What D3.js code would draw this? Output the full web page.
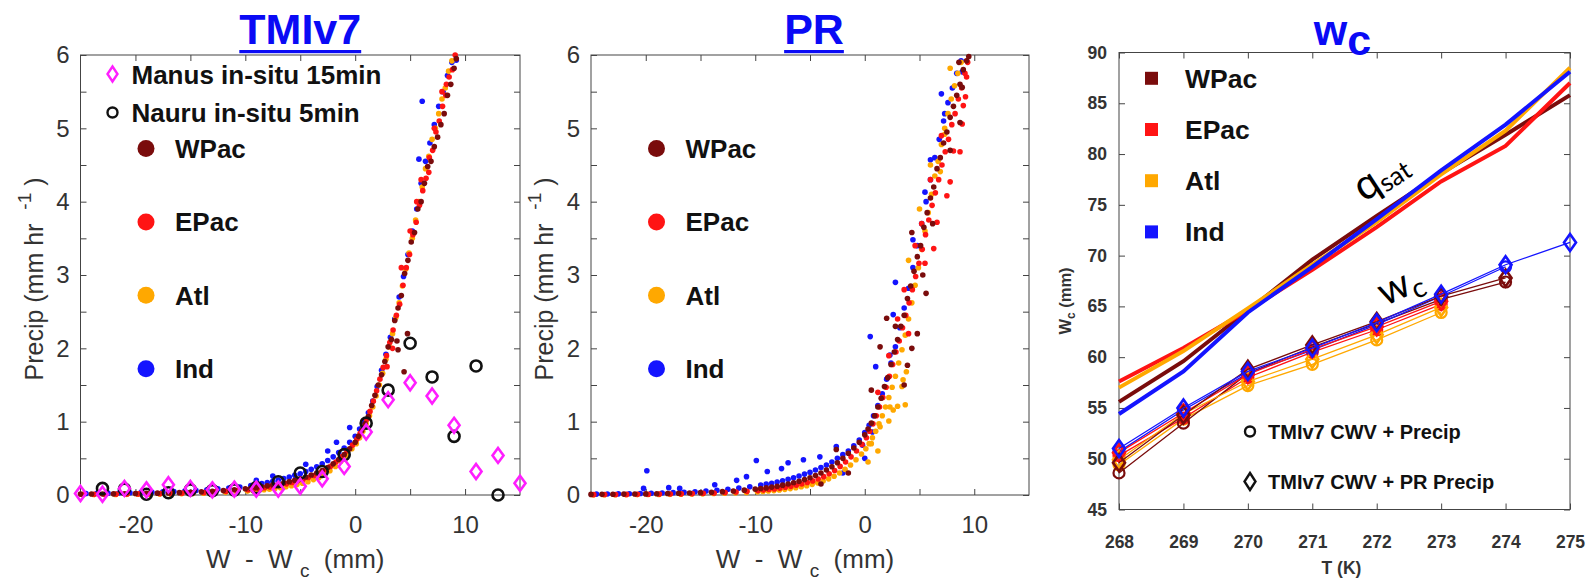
<!DOCTYPE html>
<html>
<head>
<meta charset="utf-8">
<script src="https://cdn.jsdelivr.net/npm/d3@7"></script>
<style>
  body { margin: 0; background: #fff; }
  svg { display: block; font-family: "Liberation Sans", Arial, sans-serif; }
</style>
</head>
<body>
<svg id="chart" width="1591" height="581"></svg>
<script>
// ---------------- data ----------------
const regions = ["WPac", "EPac", "Atl", "Ind"];
const regionColors = { WPac: "#7a0c0c", EPac: "#ff1414", Atl: "#ffa800", Ind: "#1414ff" };

// TMIv7 precip vs W - Wc  [W - Wc (mm), precip (mm/hr)]
const tmiWPac = [[-25,.012],[-24,.013],[-23,.014],[-22,.016],[-21,.018],[-20,.02],[-19,.022],[-18,.025],[-17,.028],[-16,.032],[-15,.037],[-14,.043],[-13,.05],[-12,.06],[-11,.072],[-10,.085],[-9.5,.092],[-9,.1],[-8.5,.112],[-8,.125],[-7.5,.138],[-7,.15],[-6.5,.167],[-6,.182],[-5.5,.2],[-5,.222],[-4.5,.245],[-4,.272],[-3.5,.3],[-3,.335],[-2.5,.375],[-2,.425],[-1.5,.485],[-1,.55],[-0.5,.63],[0,.72],[0.3,.8],[0.6,.88],[0.9,.97],[1.2,1.07],[1.5,1.22],[1.8,1.36],[2.1,1.5],[2.4,1.64],[2.7,1.82],[3.0,2.02],[3.3,2.12],[3.6,2.38],[3.8,2.1],[3.9,2.55],[4.2,2.72],[4.5,3.02],[4.8,3.2],[5.1,3.45],[5.4,3.58],[5.7,3.9],[6.0,4.0],[6.3,4.25],[6.6,4.48],[6.9,4.55],[7.2,4.75],[7.5,4.88],[7.8,5.05],[8.1,5.2],[8.4,5.45],[8.7,5.6],[9.0,5.82],[9.2,5.95],[4.76,2.2],[4.45,1.68],[3.9,1.98]];
const tmiEPac = [[-24.75,.008],[-23.75,.009],[-22.75,.01],[-21.75,.012],[-20.75,.013],[-19.75,.015],[-18.75,.017],[-17.75,.019],[-16.75,.022],[-15.75,.026],[-14.75,.03],[-13.75,.035],[-12.75,.042],[-11.75,.05],[-10.75,.06],[-9.75,.072],[-9.25,.08],[-8.75,.088],[-8.25,.098],[-7.75,.11],[-7.25,.122],[-6.75,.136],[-6.25,.152],[-5.75,.17],[-5.25,.19],[-4.75,.212],[-4.25,.238],[-3.75,.266],[-3.25,.3],[-2.75,.34],[-2.25,.39],[-1.75,.45],[-1.25,.52],[-0.75,.6],[-0.25,.68],[0.15,.76],[0.45,.84],[0.75,.93],[1.05,1.03],[1.35,1.14],[1.65,1.28],[1.95,1.42],[2.25,1.58],[2.55,1.74],[2.85,1.9],[3.15,2.08],[3.45,2.25],[3.75,2.45],[4.05,2.6],[4.35,2.86],[4.65,3.1],[4.95,3.28],[5.25,3.55],[5.55,3.72],[5.85,3.95],[6.15,4.15],[6.45,4.32],[6.75,4.6],[7.05,4.7],[7.35,4.95],[7.65,5.1],[7.95,5.3],[8.25,5.45],[8.55,5.7],[8.85,5.8],[9.1,6.0],[4.2,3.1],[5.0,3.6],[6.0,4.3],[7.2,5.0],[8.3,5.6],[3.4,2.0],[5.6,4.0],[6.7,4.4],[7.9,5.5],[2.9,1.75]];
const tmiAtl = [[-24.8,.005],[-23.8,.006],[-22.8,.007],[-21.8,.008],[-20.8,.009],[-19.8,.01],[-18.8,.011],[-17.8,.013],[-16.8,.015],[-15.8,.018],[-14.8,.021],[-13.8,.025],[-12.8,.03],[-11.8,.036],[-10.8,.044],[-9.8,.053],[-9.3,.058],[-8.8,.064],[-8.3,.072],[-7.8,.08],[-7.3,.09],[-6.8,.1],[-6.3,.112],[-5.8,.126],[-5.3,.142],[-4.8,.16],[-4.3,.182],[-3.8,.21],[-3.3,.24],[-2.8,.28],[-2.3,.33],[-1.8,.39],[-1.3,.46],[-0.8,.54],[-0.3,.63],[0.1,.7],[0.4,.78],[0.7,.87],[1.0,.97],[1.3,1.08],[1.6,1.2],[1.9,1.35],[2.2,1.5],[2.5,1.66],[2.8,1.85],[3.1,2.02],[3.4,2.2],[3.7,2.42],[4.0,2.62],[4.3,2.85],[4.6,3.08],[4.9,3.3],[5.2,3.5],[5.5,3.75],[5.8,4.0],[6.1,4.2],[6.4,4.45],[6.7,4.62],[7.0,4.85],[7.3,5.0],[7.6,5.2],[7.9,5.4],[8.2,5.55],[8.5,5.78],[8.8,5.92]];
const tmiInd = [[-24.5,.02],[-23.5,.022],[-22.5,.025],[-21.5,.027],[-20.5,.03],[-19.5,.033],[-18.5,.037],[-17.5,.042],[-16.5,.048],[-15.5,.055],[-14.5,.063],[-13.5,.072],[-12.5,.083],[-11.5,.096],[-10.5,.11],[-9.5,.128],[-9,.14],[-8.5,.155],[-8,.17],[-7.5,.188],[-7,.205],[-6.5,.225],[-6,.245],[-5.5,.268],[-5,.29],[-4.5,.32],[-4,.35],[-3.5,.385],[-3,.425],[-2.5,.47],[-2,.52],[-1.5,.58],[-1,.64],[-0.5,.72],[0,.8],[0.4,.9],[0.8,1.0],[1.2,1.12],[1.6,1.28],[2.0,1.48],[2.4,1.7],[2.8,1.92],[3.2,2.15],[3.6,2.4],[4.0,2.7],[4.4,2.98],[4.8,3.28],[5.2,3.6],[5.6,3.9],[6.0,4.25],[6.4,4.55],[6.8,4.8],[7.2,5.05],[7.6,5.3],[8.0,5.5],[8.4,5.72],[8.8,5.9],[9.2,5.93],[6.1,5.37],[5.8,4.58],[-0.5,.92],[-1.7,.72],[-2.5,.6],[-4.5,.42],[-7.5,.26],[-9,.2]];

// in-situ points (panel 1)
const manusW = [-25,-23,-21,-19,-17,-15,-13,-11,-9,-7,-5,-3,-1,1,3,5,7,9,11,13,15];
const manusP = [0.02,0.01,0.09,0.07,0.14,0.09,0.07,0.08,0.08,0.08,0.12,0.22,0.39,0.86,1.30,1.53,1.35,0.95,0.32,0.54,0.16];
const nauruW = [-23,-21,-19,-17,-15,-13,-11,-9,-7,-5,-3,-1,1,3,5,7,9,11,13];
const nauruP = [0.09,0.08,0.01,0.03,0.07,0.06,0.07,0.1,0.18,0.30,0.32,0.55,0.98,1.43,2.07,1.61,0.80,1.76,0.0];

// PR precip vs W - Wc
const prWPac = [[-25,.008],[-24,.009],[-23,.01],[-22,.012],[-21,.013],[-20,.015],[-19,.017],[-18,.02],[-17,.023],[-16,.027],[-15,.032],[-14,.038],[-13,.046],[-12,.055],[-11,.066],[-10,.08],[-9.5,.088],[-9,.097],[-8.5,.108],[-8,.12],[-7.5,.134],[-7,.15],[-6.5,.168],[-6,.188],[-5.5,.21],[-5,.235],[-4.5,.265],[-4,.3],[-3.5,.34],[-3,.385],[-2.5,.44],[-2,.5],[-1.5,.57],[-1,.64],[-0.5,.72],[0,.82],[0.3,.9],[0.6,.98],[0.9,1.08],[1.2,1.2],[1.5,1.32],[1.8,1.48],[2.1,1.6],[2.4,1.78],[2.7,1.95],[3.0,2.12],[3.3,2.3],[3.6,2.45],[3.9,2.68],[4.2,2.85],[4.5,3.05],[4.8,3.25],[5.1,3.4],[5.4,3.65],[5.7,3.85],[6.0,4.05],[6.3,4.2],[6.6,4.45],[6.9,4.6],[7.2,4.8],[7.5,4.95],[7.8,5.15],[8.1,5.3],[8.4,5.45],[8.7,5.6],[9.0,5.8],[9.3,5.92],[4.8,2.2],[4.3,2.0],[3.9,1.77],[2.0,2.41],[1.4,2.02],[0.6,1.43],[9.5,5.98],[8.6,5.9],[8.9,5.56],[8.7,5.08],[4.3,3.58],[5.6,2.75],[-1.5,.3],[-4,.15],[-2.6,.62],[3.6,1.5],[6.2,3.7],[7.8,4.7],[2.8,2.3],[5.3,3.0]];
const prEPac = [[-24.75,.005],[-23.75,.006],[-22.75,.007],[-21.75,.008],[-20.75,.009],[-19.75,.01],[-18.75,.012],[-17.75,.014],[-16.75,.016],[-15.75,.019],[-14.75,.023],[-13.75,.028],[-12.75,.034],[-11.75,.041],[-10.75,.05],[-9.75,.06],[-9.25,.067],[-8.75,.075],[-8.25,.083],[-7.75,.093],[-7.25,.105],[-6.75,.118],[-6.25,.133],[-5.75,.15],[-5.25,.17],[-4.75,.192],[-4.25,.218],[-3.75,.25],[-3.25,.29],[-2.75,.335],[-2.25,.39],[-1.75,.45],[-1.25,.52],[-0.75,.6],[-0.25,.69],[0.15,.78],[0.45,.87],[0.75,.97],[1.05,1.08],[1.35,1.2],[1.65,1.33],[1.95,1.47],[2.25,1.62],[2.55,1.78],[2.85,1.95],[3.15,2.1],[3.45,2.28],[3.75,2.45],[4.05,2.62],[4.35,2.8],[4.65,2.98],[4.95,3.16],[5.25,3.35],[5.55,3.55],[5.85,3.75],[6.15,3.95],[6.45,4.12],[6.75,4.3],[7.05,4.5],[7.35,4.68],[7.65,4.85],[7.95,5.05],[8.25,5.2],[8.55,5.4],[8.85,5.55],[9.15,5.75],[9.4,5.9],[9.3,5.7],[9.2,5.43],[9.0,5.31],[8.9,5.06],[8.7,4.68],[8.1,4.69],[7.8,4.27],[7.5,4.08],[6.6,3.72],[6.3,3.36],[5.5,3.16],[4.6,3.4],[5.2,3.7],[6.0,4.3],[7.0,4.9],[3.0,2.4],[3.6,2.8],[2.2,1.9],[4.0,2.2],[1.2,1.4]];
const prAtl = [[-24.8,.003],[-23.8,.004],[-22.8,.004],[-21.8,.005],[-20.8,.006],[-19.8,.007],[-18.8,.008],[-17.8,.009],[-16.8,.011],[-15.8,.013],[-14.8,.016],[-13.8,.02],[-12.8,.024],[-11.8,.029],[-10.8,.035],[-9.8,.043],[-9.3,.048],[-8.8,.054],[-8.3,.06],[-7.8,.068],[-7.3,.077],[-6.8,.087],[-6.3,.099],[-5.8,.112],[-5.3,.127],[-4.8,.145],[-4.3,.166],[-3.8,.19],[-3.3,.22],[-2.8,.255],[-2.3,.3],[-1.8,.35],[-1.3,.41],[-0.8,.48],[-0.3,.56],[0.1,.63],[0.4,.7],[0.7,.78],[1.0,.87],[1.3,.97],[1.6,1.08],[1.9,1.2],[2.2,1.33],[2.5,1.47],[2.8,1.62],[3.1,1.8],[3.4,1.98],[3.7,2.18],[4.0,2.4],[4.3,2.62],[4.6,2.86],[4.9,3.1],[5.2,3.35],[5.5,3.6],[5.8,3.85],[6.1,4.1],[6.4,4.35],[6.7,4.55],[7.0,4.78],[7.3,5.0],[7.6,5.2],[7.9,5.4],[8.2,5.58],[8.5,5.75],[8.8,5.9],[2.3,1.2],[3.0,1.21],[3.7,1.23],[2.6,1.16],[2.2,1.01],[1.4,.93],[3.4,1.48],[3.5,1.57],[3.8,1.68],[0.6,.7],[7.8,5.82],[6.9,4.41],[7.3,4.92],[4.0,3.2],[5.0,3.9],[6.0,4.5],[1.2,.6],[0.3,.45]];
const prInd = [[-24.5,.012],[-23.5,.014],[-22.5,.016],[-21.5,.018],[-20.5,.02],[-19.5,.023],[-18.5,.027],[-17.5,.032],[-16.5,.038],[-15.5,.045],[-14.5,.054],[-13.5,.065],[-12.5,.078],[-11.5,.094],[-10.5,.112],[-9.5,.135],[-9,.148],[-8.5,.16],[-8,.178],[-7.5,.195],[-7,.215],[-6.5,.235],[-6,.26],[-5.5,.285],[-5,.31],[-4.5,.34],[-4,.375],[-3.5,.41],[-3,.45],[-2.5,.5],[-2,.55],[-1.5,.6],[-1,.67],[-0.5,.75],[0,.85],[0.4,.95],[0.8,1.08],[1.2,1.22],[1.6,1.38],[2.0,1.58],[2.4,1.8],[2.8,2.02],[3.2,2.28],[3.6,2.55],[4.0,2.82],[4.4,3.1],[4.8,3.4],[5.2,3.7],[5.6,4.0],[6.0,4.3],[6.4,4.6],[6.8,4.85],[7.2,5.1],[7.6,5.35],[8.0,5.55],[8.4,5.75],[8.8,5.92],[-19.9,.33],[-20.2,.09],[-17.9,.1],[-16.9,.09],[-13.7,.14],[-9.9,.47],[-11.7,.2],[-10.8,.25],[-8.9,.32],[-7.6,.36],[-7.0,.44],[-5.6,.48],[-4.1,.52],[-2.6,.66],[0.5,2.16],[2.6,2.46],[1.0,1.75],[0,.5],[-0.2,.68],[-2,.3],[0.7,.86],[2.3,1.91],[7.0,5.47],[2.8,2.9],[6.0,4.57],[8.9,5.77],[7.3,5.2],[5.5,4.13],[4.4,3.48]];

// Wc panel: temperature (K) and column water (mm)
const tempK = [268, 269, 270, 271, 272, 273, 274, 275];
const qsatWPac = [55.6, 59.6, 64.6, 69.6, 73.9, 78.1, 81.9, 85.8];
const qsatEPac = [57.6, 60.9, 64.6, 68.6, 72.8, 77.3, 80.8, 87.0];
const qsatAtl  = [57.0, 60.6, 64.8, 69.1, 73.3, 78.0, 82.3, 88.5];
const qsatInd  = [54.4, 58.6, 64.4, 68.9, 73.6, 78.4, 82.9, 88.1];
// Wc from TMIv7 precip (circles) and PR precip (diamonds)
const wcTmiWPac = [48.6, 53.5, 58.4, 61.0, 63.3, 65.7, 67.4, null];
const wcTmiEPac = [50.3, 54.0, 58.0, 60.5, 62.7, 65.2, null, null];
const wcTmiAtl  = [49.4, 53.9, 57.2, 59.3, 61.7, 64.4, null, null];
const wcTmiInd  = [50.7, 54.8, 58.4, 60.7, 63.2, 66.0, 68.9, null];
const wcPrWPac  = [49.6, 54.3, 58.8, 61.2, 63.5, 66.0, 67.8, null];
const wcPrEPac  = [50.6, 54.5, 58.3, 60.8, 63.0, 65.5, null, null];
const wcPrAtl   = [49.9, 54.4, 57.6, 59.8, 62.2, 64.9, null, null];
const wcPrInd   = [51.0, 55.0, 58.6, 60.9, 63.4, 66.2, 69.1, 71.3];

// ---------------- helpers ----------------
const FONT = "Liberation Sans, Arial, sans-serif";
const diamondPath = (w, h) => `M0,${-h}L${w},0L0,${h}L${-w},0Z`;

function drawAxes(chart, xScale, yScale, o) {
  const w = xScale.range()[1];
  const h = yScale.range()[0];
  const style = (g) => {
    g.select(".domain").remove();
    g.selectAll(".tick line").attr("stroke", "#444");
    g.attr("font-family", FONT).attr("font-size", o.fontSize)
      .attr("font-weight", o.fontWeight);
    g.selectAll(".tick text").attr("fill", "#333");
  };
  chart.append("g").attr("transform", `translate(0,${h})`)
    .call(d3.axisBottom(xScale).tickValues(o.xTicks).tickFormat(o.xFormat)
      .tickSizeInner(-6).tickSizeOuter(0).tickPadding(o.xPad)).call(style);
  chart.append("g")
    .call(d3.axisLeft(yScale).tickValues(o.yTicks).tickFormat(o.yFormat)
      .tickSizeInner(-6).tickSizeOuter(0).tickPadding(o.yPad)).call(style);
  chart.append("g")
    .call(d3.axisTop(xScale).tickValues(o.xTicks).tickFormat("")
      .tickSizeInner(-6).tickSizeOuter(0)).call(style);
  chart.append("g").attr("transform", `translate(${w},0)`)
    .call(d3.axisRight(yScale).tickValues(o.yTicks).tickFormat("")
      .tickSizeInner(-6).tickSizeOuter(0)).call(style);
  chart.append("rect").attr("width", w).attr("height", h)
    .attr("fill", "none").attr("stroke", "#444").attr("stroke-width", 1);
}

function underlinedTitle(chart, x, y, label) {
  const t = chart.append("text").attr("x", x).attr("y", y)
    .attr("text-anchor", "middle").attr("font-weight", "bold")
    .attr("font-size", 43).attr("fill", "#0a0af5").text(label);
  const len = t.node().getComputedTextLength();
  chart.append("rect").attr("x", x - len / 2).attr("y", y + 6)
    .attr("width", len).attr("height", 3.2).attr("fill", "#0a0af5");
}

// ---------------- precip scatter panels ----------------
class PrecipPanel {
  constructor(_config, _series, _insitu) {
    this.config = {
      parentElement: _config.parentElement,
      left: _config.left,
      top: _config.top,
      width: _config.width,
      height: _config.height,
      title: _config.title,
      titleShift: _config.titleShift || 0,
      dotRadius: _config.dotRadius || 2.8,
    };
    this.series = _series;
    this.insitu = _insitu;
    this.initVis();
    this.renderVis();
  }

  initVis() {
    let vis = this;
    vis.xScale = d3.scaleLinear().domain([-25, 15]).range([0, vis.config.width]);
    vis.yScale = d3.scaleLinear().domain([0, 6]).range([vis.config.height, 0]);

    vis.chart = d3.select(vis.config.parentElement).append("g")
      .attr("transform", `translate(${vis.config.left},${vis.config.top})`);

    drawAxes(vis.chart, vis.xScale, vis.yScale, {
      xTicks: [-20, -15, -10, -5, 0, 5, 10],
      xFormat: (d) => (d % 10 === 0 ? String(d) : ""),
      yTicks: d3.range(0, 6.01, 0.5),
      yFormat: (d) => (Number.isInteger(d) ? String(d) : ""),
      xPad: 21, yPad: 11, fontSize: 24, fontWeight: "normal",
    });

    underlinedTitle(vis.chart, vis.config.width / 2 + vis.config.titleShift, -11, vis.config.title);

    // axis titles
    const yl = vis.chart.append("text")
      .attr("transform", `translate(-38,${vis.config.height / 2 + 4}) rotate(-90)`)
      .attr("text-anchor", "middle").attr("font-size", 25).attr("fill", "#333")
      .style("white-space", "pre");
    yl.append("tspan").text("Precip (mm hr  ");
    yl.append("tspan").attr("dy", -12).attr("font-size", 19).text("-1");
    yl.append("tspan").attr("dy", 12).text(" )");

    const xl = vis.chart.append("text")
      .attr("x", vis.config.width / 2 - 5).attr("y", vis.config.height + 73)
      .attr("text-anchor", "middle").attr("font-size", 26).attr("fill", "#333")
      .style("white-space", "pre");
    xl.append("tspan").text("W  -  W ");
    xl.append("tspan").attr("dy", 9).attr("font-size", 19).text("c");
    xl.append("tspan").attr("dy", -9).text("  (mm)");
  }

  renderVis() {
    let vis = this;
    const drawOrder = ["Ind", "Atl", "EPac", "WPac"];

    drawOrder.forEach((r) => {
      vis.chart.append("g").selectAll("circle")
        .data(vis.series[r])
        .join("circle")
        .attr("cx", (d) => vis.xScale(d[0]))
        .attr("cy", (d) => vis.yScale(d[1]))
        .attr("r", vis.config.dotRadius)
        .attr("fill", regionColors[r]);
    });

    if (vis.insitu) {
      vis.chart.append("g").selectAll("circle")
        .data(d3.zip(nauruW, nauruP))
        .join("circle")
        .attr("cx", (d) => vis.xScale(d[0]))
        .attr("cy", (d) => vis.yScale(d[1]))
        .attr("r", 5.5)
        .attr("fill", "none").attr("stroke", "#111").attr("stroke-width", 2.6);
      vis.chart.append("g").selectAll("path")
        .data(d3.zip(manusW, manusP))
        .join("path")
        .attr("transform", (d) => `translate(${vis.xScale(d[0])},${vis.yScale(d[1])})`)
        .attr("d", diamondPath(5.5, 7.5))
        .attr("fill", "none").attr("stroke", "#ff1eff").attr("stroke-width", 2.6);

      // in-situ legend
      const lg = vis.chart.append("g").attr("font-weight", "bold")
        .attr("font-size", 26).attr("fill", "#111");
      lg.append("path").attr("transform", "translate(32,19)")
        .attr("d", diamondPath(5, 7.5))
        .attr("fill", "none").attr("stroke", "#ff1eff").attr("stroke-width", 2.4);
      lg.append("text").attr("x", 51).attr("y", 28.5).text("Manus in-situ 15min");
      lg.append("circle").attr("cx", 32).attr("cy", 57.5).attr("r", 5)
        .attr("fill", "none").attr("stroke", "#111").attr("stroke-width", 2.4);
      lg.append("text").attr("x", 51).attr("y", 66.5).text("Nauru in-situ 5min");
    }

    // region legend
    const rg = vis.chart.append("g").attr("font-weight", "bold")
      .attr("font-size", 26).attr("fill", "#111");
    regions.forEach((r, i) => {
      const cy = 93.5 + i * 73.4;
      rg.append("circle").attr("cx", 65.5).attr("cy", cy).attr("r", 8.5)
        .attr("fill", regionColors[r]);
      rg.append("text").attr("x", 94.5).attr("y", cy + 9.5).text(r);
    });
  }
}

// ---------------- Wc panel ----------------
class WcPanel {
  constructor(_config) {
    this.config = {
      parentElement: _config.parentElement,
      left: _config.left,
      top: _config.top,
      width: _config.width,
      height: _config.height,
    };
    this.qsat = { WPac: qsatWPac, EPac: qsatEPac, Atl: qsatAtl, Ind: qsatInd };
    this.wcTmi = { WPac: wcTmiWPac, EPac: wcTmiEPac, Atl: wcTmiAtl, Ind: wcTmiInd };
    this.wcPr = { WPac: wcPrWPac, EPac: wcPrEPac, Atl: wcPrAtl, Ind: wcPrInd };
    this.initVis();
    this.renderVis();
  }

  initVis() {
    let vis = this;
    vis.xScale = d3.scaleLinear().domain([268, 275]).range([0, vis.config.width]);
    vis.yScale = d3.scaleLinear().domain([45, 90]).range([vis.config.height, 0]);

    vis.chart = d3.select(vis.config.parentElement).append("g")
      .attr("transform", `translate(${vis.config.left},${vis.config.top})`);

    drawAxes(vis.chart, vis.xScale, vis.yScale, {
      xTicks: tempK,
      xFormat: (d) => String(d),
      yTicks: d3.range(45, 91, 5),
      yFormat: (d) => String(d),
      xPad: 26, yPad: 12, fontSize: 17.5, fontWeight: "bold",
    });

    // title w_c
    const t = vis.chart.append("text").attr("x", vis.config.width / 2 - 2).attr("y", -8)
      .attr("text-anchor", "middle").attr("font-weight", "bold")
      .attr("font-size", 43).attr("fill", "#0a0af5");
    t.append("tspan").text("w");
    t.append("tspan").attr("dy", 10).text("c");

    const yl = vis.chart.append("text")
      .attr("transform", `translate(-48,${vis.config.height / 2 + 20}) rotate(-90)`)
      .attr("text-anchor", "middle").attr("font-size", 16.5).attr("font-weight", "bold")
      .attr("fill", "#333");
    yl.append("tspan").text("W");
    yl.append("tspan").attr("dy", 4).attr("font-size", 12).text("c");
    yl.append("tspan").attr("dy", -4).text(" (mm)");

    vis.chart.append("text")
      .attr("x", vis.config.width / 2 - 3).attr("y", vis.config.height + 64)
      .attr("text-anchor", "middle").attr("font-size", 17.5).attr("font-weight", "bold")
      .attr("fill", "#333").text("T (K)");
  }

  renderVis() {
    let vis = this;
    const line = d3.line()
      .defined((d) => d[1] != null)
      .x((d) => vis.xScale(d[0]))
      .y((d) => vis.yScale(d[1]));

    ["WPac", "EPac", "Atl", "Ind"].forEach((r) => {
      vis.chart.append("path")
        .attr("d", line(d3.zip(tempK, vis.qsat[r])))
        .attr("fill", "none").attr("stroke", regionColors[r]).attr("stroke-width", 4);
    });

    const order = ["Atl", "EPac", "WPac", "Ind"];
    order.forEach((r) => {
      const pts = d3.zip(tempK, vis.wcTmi[r]).filter((d) => d[1] != null);
      vis.chart.append("path").attr("d", line(pts))
        .attr("fill", "none").attr("stroke", regionColors[r]).attr("stroke-width", 1.3);
      vis.chart.append("g").selectAll("circle").data(pts).join("circle")
        .attr("cx", (d) => vis.xScale(d[0])).attr("cy", (d) => vis.yScale(d[1]))
        .attr("r", 5.5).attr("fill", "none")
        .attr("stroke", regionColors[r]).attr("stroke-width", 2.2);
    });
    order.forEach((r) => {
      const pts = d3.zip(tempK, vis.wcPr[r]).filter((d) => d[1] != null);
      vis.chart.append("path").attr("d", line(pts))
        .attr("fill", "none").attr("stroke", regionColors[r]).attr("stroke-width", 1.3);
      vis.chart.append("g").selectAll("path").data(pts).join("path")
        .attr("transform", (d) => `translate(${vis.xScale(d[0])},${vis.yScale(d[1])})`)
        .attr("d", diamondPath(6, 8.5)).attr("fill", "none")
        .attr("stroke", regionColors[r]).attr("stroke-width", 2.6);
    });

    // region legend
    const rg = vis.chart.append("g").attr("font-weight", "bold")
      .attr("font-size", 26.5).attr("fill", "#111");
    regions.forEach((r, i) => {
      const cy = 25.8 + i * 51.2;
      rg.append("rect").attr("x", 26).attr("y", cy - 6.5).attr("width", 13).attr("height", 13)
        .attr("fill", regionColors[r]);
      rg.append("text").attr("x", 66).attr("y", cy + 9.5).text(r);
    });

    // marker legend
    const mg = vis.chart.append("g").attr("font-weight", "bold")
      .attr("font-size", 20).attr("fill", "#111");
    mg.append("circle").attr("cx", 131).attr("cy", 379).attr("r", 5)
      .attr("fill", "none").attr("stroke", "#111").attr("stroke-width", 2.4);
    mg.append("text").attr("x", 149).attr("y", 386.5).text("TMIv7 CWV + Precip");
    mg.append("path").attr("transform", "translate(131,429)").attr("d", diamondPath(5.5, 8.5))
      .attr("fill", "none").attr("stroke", "#111").attr("stroke-width", 2.4);
    mg.append("text").attr("x", 149).attr("y", 436.5).text("TMIv7 CWV + PR Precip");

    // curve annotations
    const qa = vis.chart.append("text")
      .attr("transform", "translate(245,150) rotate(-33)")
      .attr("font-family", "Lato, 'Open Sans', sans-serif").attr("fill", "#000");
    qa.append("tspan").attr("font-size", 42).text("q");
    qa.append("tspan").attr("font-size", 26).attr("dy", 4).text("sat");

    const wa = vis.chart.append("text")
      .attr("transform", "translate(266,254) rotate(-25)")
      .attr("font-family", "Lato, 'Open Sans', sans-serif").attr("fill", "#000");
    wa.append("tspan").attr("font-size", 40).text("w");
    wa.append("tspan").attr("font-size", 28).attr("dy", 7).text("c");
  }
}

// ---------------- build ----------------
new PrecipPanel(
  { parentElement: "#chart", left: 80.5, top: 55, width: 439.5, height: 440, title: "TMIv7" },
  { WPac: tmiWPac, EPac: tmiEPac, Atl: tmiAtl, Ind: tmiInd },
  true
);
new PrecipPanel(
  { parentElement: "#chart", left: 591, top: 55, width: 438, height: 440, title: "PR", titleShift: 4 },
  { WPac: prWPac, EPac: prEPac, Atl: prAtl, Ind: prInd },
  false
);
new WcPanel({ parentElement: "#chart", left: 1119, top: 52.5, width: 451, height: 457 });
</script>
</body>
</html>
